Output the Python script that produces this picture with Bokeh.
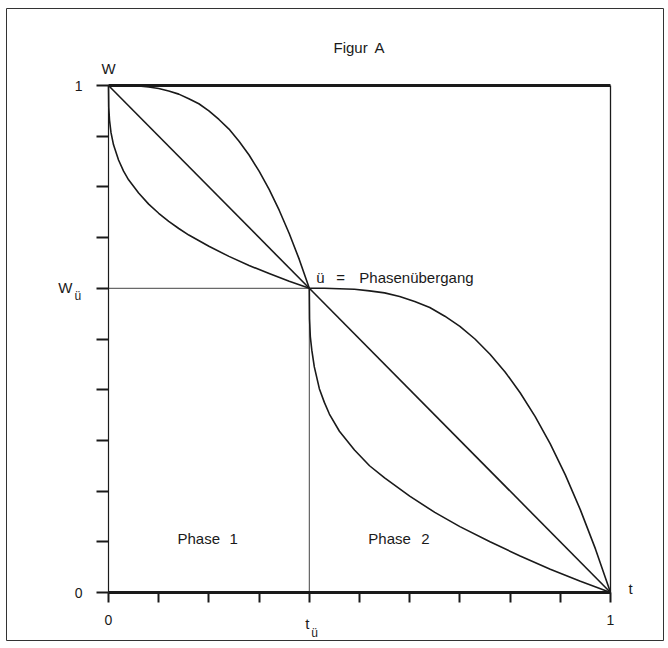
from bokeh.plotting import figure
from bokeh.models import Range1d, FixedTicker, Label
from bokeh.embed import file_html
from bokeh.resources import INLINE

# ---------------- data ----------------
t_ticks = [0.0, 0.1, 0.2, 0.3, 0.4, 0.5, 0.6, 0.7, 0.8, 0.9, 1.0]
t_tick_labels = ["0", "", "", "", "", "", "", "", "", "", "1"]
w_ticks = [0.0, 0.1, 0.2, 0.3, 0.4, 0.5, 0.6, 0.7, 0.8, 0.9, 1.0]
w_tick_labels = ["0", "", "", "", "", "", "", "", "", "", "1"]

t_u = 0.4   # t_ü  (phase transition time)
w_u = 0.6   # W_ü  (value at phase transition)

# Phase 1 curves: (0, 1) -> (t_u, w_u)
p1_lin_t = [0.0, 0.4]
p1_lin_w = [1.0, 0.6]

p1_up_t = [0.0, 0.02, 0.04, 0.06, 0.08, 0.1, 0.12, 0.14, 0.16, 0.18, 0.2,
           0.22, 0.24, 0.26, 0.28, 0.3, 0.32, 0.34, 0.36, 0.38, 0.4]
p1_up_w = [1.0, 1.0, 1.0, 0.999, 0.997, 0.994, 0.989, 0.983, 0.974, 0.964, 0.95,
           0.933, 0.914, 0.89, 0.863, 0.831, 0.795, 0.754, 0.708, 0.657, 0.6]

p1_lo_t = [0.0, 0.0005, 0.002, 0.005, 0.01, 0.02, 0.03, 0.04, 0.06, 0.08, 0.1,
           0.12, 0.14, 0.16, 0.2, 0.24, 0.28, 0.32, 0.36, 0.4]
p1_lo_w = [1.0, 0.957, 0.932, 0.907, 0.883, 0.853, 0.831, 0.814, 0.788, 0.766, 0.748,
           0.732, 0.718, 0.705, 0.683, 0.663, 0.645, 0.629, 0.614, 0.6]

# Phase 2 curves: (t_u, w_u) -> (1, 0)
p2_lin_t = [0.4, 1.0]
p2_lin_w = [0.6, 0.0]

p2_up_t = [0.4, 0.43, 0.46, 0.49, 0.52, 0.55, 0.58, 0.61, 0.64, 0.67, 0.7,
           0.73, 0.76, 0.79, 0.82, 0.85, 0.88, 0.91, 0.94, 0.97, 1.0]
p2_up_w = [0.6, 0.6, 0.599, 0.598, 0.595, 0.591, 0.584, 0.574, 0.562, 0.545, 0.525,
           0.5, 0.47, 0.435, 0.394, 0.347, 0.293, 0.232, 0.163, 0.086, 0.0]

p2_lo_t = [0.4, 0.4005, 0.402, 0.405, 0.41, 0.42, 0.43, 0.44, 0.46, 0.49, 0.52, 0.55,
           0.6, 0.65, 0.7, 0.76, 0.82, 0.88, 0.94, 1.0]
p2_lo_w = [0.6, 0.54, 0.505, 0.478, 0.445, 0.402, 0.375, 0.352, 0.318, 0.281, 0.25, 0.226,
           0.19, 0.158, 0.13, 0.1, 0.072, 0.046, 0.022, 0.0]

title_words = ["Figur", "A"]
phase_labels = ["Phase", "1", "Phase", "2"]
legend_words = ["ü", "=", "Phasenübergang"]

# ---------------- styling ----------------
FONT = "Liberation Sans"
INK = "#1a1a1a"

# plot frame = the outer box of the drawing (6..663 x 8..640 px);
# t runs 0..1 over 108..610 px, W runs 0..1 over 592..85 px
p = figure(width=668, height=648,
           x_range=Range1d(-102 / 502, 555 / 502),
           y_range=Range1d(-48 / 507, 584 / 507),
           min_border_left=6, min_border_right=5,
           min_border_top=8, min_border_bottom=8,
           toolbar_location=None, output_backend="svg", title=None)
p.grid.visible = False
p.outline_line_color = "#333333"
p.outline_line_width = 1
p.background_fill_color = "white"
p.border_fill_color = "white"

xa = p.xaxis[0]
xa.fixed_location = 0
xa.ticker = FixedTicker(ticks=t_ticks)
xa.major_label_overrides = {v: s for v, s in zip(t_ticks, t_tick_labels)}
xa.bounds = (0, 1)
xa.axis_line_width = 3
xa.axis_line_color = INK
xa.major_tick_out = 10
xa.major_tick_in = 0
xa.major_tick_line_width = 2
xa.major_tick_line_color = INK
xa.minor_tick_line_color = None
xa.major_label_text_font = FONT
xa.major_label_text_font_size = "14px"
xa.major_label_text_color = INK
xa.major_label_standoff = 12

ya = p.yaxis[0]
ya.fixed_location = 0
ya.ticker = FixedTicker(ticks=w_ticks)
ya.major_label_overrides = {v: s for v, s in zip(w_ticks, w_tick_labels)}
ya.bounds = (0, 1)
ya.axis_line_width = 1.2
ya.axis_line_color = INK
ya.major_tick_out = 12
ya.major_tick_in = 0
ya.major_tick_line_width = 2
ya.major_tick_line_color = INK
ya.minor_tick_line_color = None
ya.major_label_text_font = FONT
ya.major_label_text_font_size = "14px"
ya.major_label_text_color = INK
ya.major_label_standoff = 14

# frame lines: thick top at W=1, thin right at t=1
p.line([0, 1], [1, 1], line_width=3, line_color=INK)
p.line([1, 1], [0, 1], line_width=1.3, line_color=INK)

# guide lines to the transition point
p.line([0, t_u], [w_u, w_u], line_width=1, line_color="#444444")
p.line([t_u, t_u], [0, w_u], line_width=1, line_color="#444444")

# curves
for xs, ys in [(p1_lin_t, p1_lin_w), (p1_up_t, p1_up_w), (p1_lo_t, p1_lo_w),
               (p2_lin_t, p2_lin_w), (p2_up_t, p2_up_w), (p2_lo_t, p2_lo_w)]:
    p.line(xs, ys, line_width=1.6, line_color=INK, line_join="round")


def lab(x, y, text, dx=0, dy=0, size="15px", align="left", base="alphabetic"):
    p.add_layout(Label(x=x, y=y, text=text, x_offset=dx, y_offset=dy,
                       text_font=FONT, text_font_size=size, text_color=INK,
                       text_align=align, text_baseline=base))


# title
lab(0.0, 1.0, title_words[0], dx=225, dy=38)
lab(0.0, 1.0, title_words[1], dx=266, dy=38)

# axis names
lab(0.0, 1.0, "W", dy=17, align="center")
lab(1.0, 0.0, "t", dx=20, dy=4, align="center", base="middle")

# W_ü label on y axis
lab(0.0, w_u, "W", dx=-36, dy=1, align="right")
lab(0.0, w_u, "ü", dx=-34, dy=-8, size="12px", align="left")

# t_ü label on x axis
lab(t_u, 0.0, "t", dx=0, dy=-31, align="right")
lab(t_u, 0.0, "ü", dx=2, dy=-40, size="12px", align="left")

# transition legend
lab(t_u, w_u, legend_words[0], dx=7, dy=11)
lab(t_u, w_u, legend_words[1], dx=27, dy=11)
lab(t_u, w_u, legend_words[2], dx=50, dy=11)

# phase names
lab(0.0, 0.0, phase_labels[0], dx=69, dy=54)
lab(0.0, 0.0, phase_labels[1], dx=121, dy=54)
lab(t_u, 0.0, phase_labels[2], dx=59, dy=54)
lab(t_u, 0.0, phase_labels[3], dx=112, dy=54)

open("out.html", "w").write(file_html(p, INLINE))
